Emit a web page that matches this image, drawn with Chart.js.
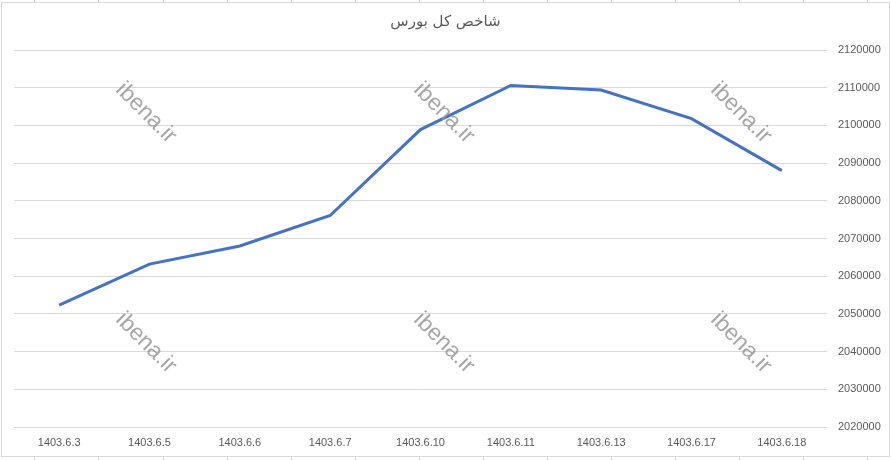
<!DOCTYPE html>
<html>
<head>
<meta charset="utf-8">
<script src="https://cdn.jsdelivr.net/npm/chart.js@4/dist/chart.umd.min.js"></script>
<style>
html,body{margin:0;padding:0;background:#fff;}
#wrap{position:relative;width:891px;height:460px;}
</style>
</head>
<body>
<div id="wrap"><canvas id="c" width="891" height="460"></canvas></div>
<script>
const titleText = "شاخص کل بورس";
const categories = ["1403.6.3","1403.6.5","1403.6.6","1403.6.7","1403.6.10","1403.6.11","1403.6.13","1403.6.17","1403.6.18"];
const indexValues = [2052300, 2063200, 2068000, 2076100, 2098900, 2110600, 2109400, 2101800, 2088000];
const yMin = 2020000;
const yMax = 2120000;
const yStep = 10000;
const watermarkText = "ibena.ir";

const frame = {
  id: 'frame',
  beforeDraw(chart) {
    const ctx = chart.ctx;
    ctx.save();
    ctx.fillStyle = '#fff';
    ctx.fillRect(0, 0, chart.width, chart.height);
    ctx.strokeStyle = '#d4d4d4';
    ctx.lineWidth = 1;
    const cols = [34, 98, 163, 227, 291, 355, 419, 483, 547, 611, 675, 739, 803, 867];
    ctx.beginPath();
    cols.forEach(x => {
      ctx.moveTo(x + 0.5, 0); ctx.lineTo(x + 0.5, 2);
      ctx.moveTo(x + 0.5, 457); ctx.lineTo(x + 0.5, 460);
    });
    ctx.stroke();
    ctx.strokeStyle = '#d9d9d9';
    ctx.strokeRect(1.5, 2.5, 888, 454);
    ctx.restore();
  },
  afterDatasetsDraw(chart) {
    const ctx = chart.ctx;
    ctx.save();
    ctx.fillStyle = 'rgba(150,150,150,0.85)';
    ctx.font = '23px "Liberation Sans", Arial, sans-serif';
    ctx.textAlign = 'center';
    ctx.textBaseline = 'middle';
    const spots = [[146,113],[444,113],[741,113],[146,343],[444,343],[741,343]];
    spots.forEach(([x,y]) => {
      ctx.save();
      ctx.translate(x, y);
      ctx.rotate(Math.PI / 4);
      ctx.fillText(watermarkText, 0, 0);
      ctx.restore();
    });
    ctx.restore();
  }
};

new Chart(document.getElementById('c'), {
  type: 'line',
  data: {
    labels: categories,
    datasets: [{
      label: titleText,
      data: indexValues,
      yAxisID: 'y',
      borderColor: '#4472c4',
      backgroundColor: '#4472c4',
      borderWidth: 3,
      pointRadius: 0,
      tension: 0,
      fill: false
    }]
  },
  options: {
    responsive: false,
    animation: false,
    devicePixelRatio: 1,
    layout: { padding: 0 },
    plugins: {
      legend: { display: false },
      tooltip: { enabled: false },
      title: {
        display: true,
        text: titleText,
        color: '#595959',
        font: { family: '"DejaVu Sans", sans-serif', size: 15, weight: 'normal' },
        padding: { top: 13, bottom: 19 }
      }
    },
    scales: {
      x: {
        offset: true,
        grid: { display: false, drawTicks: false },
        border: { display: false },
        ticks: {
          color: '#595959',
          font: { family: '"Liberation Sans", Arial, sans-serif', size: 11 },
          padding: 9,
          maxRotation: 0,
          autoSkip: false
        },
        afterFit(s) { s.height = 33; }
      },
      spacer: {
        position: 'left',
        min: yMin,
        max: yMax,
        grid: { display: false, drawTicks: false },
        border: { display: false },
        ticks: { display: false },
        afterFit(s) { s.width = 14; }
      },
      y: {
        position: 'right',
        min: yMin,
        max: yMax,
        grid: { color: '#d9d9d9', lineWidth: 1, drawTicks: false },
        border: { display: false },
        ticks: {
          stepSize: yStep,
          color: '#595959',
          font: { family: '"Liberation Sans", Arial, sans-serif', size: 11 },
          padding: 11,
          callback: v => String(v)
        },
        afterFit(s) { s.width = 64; }
      }
    }
  },
  plugins: [frame]
});
</script>
</body>
</html>
